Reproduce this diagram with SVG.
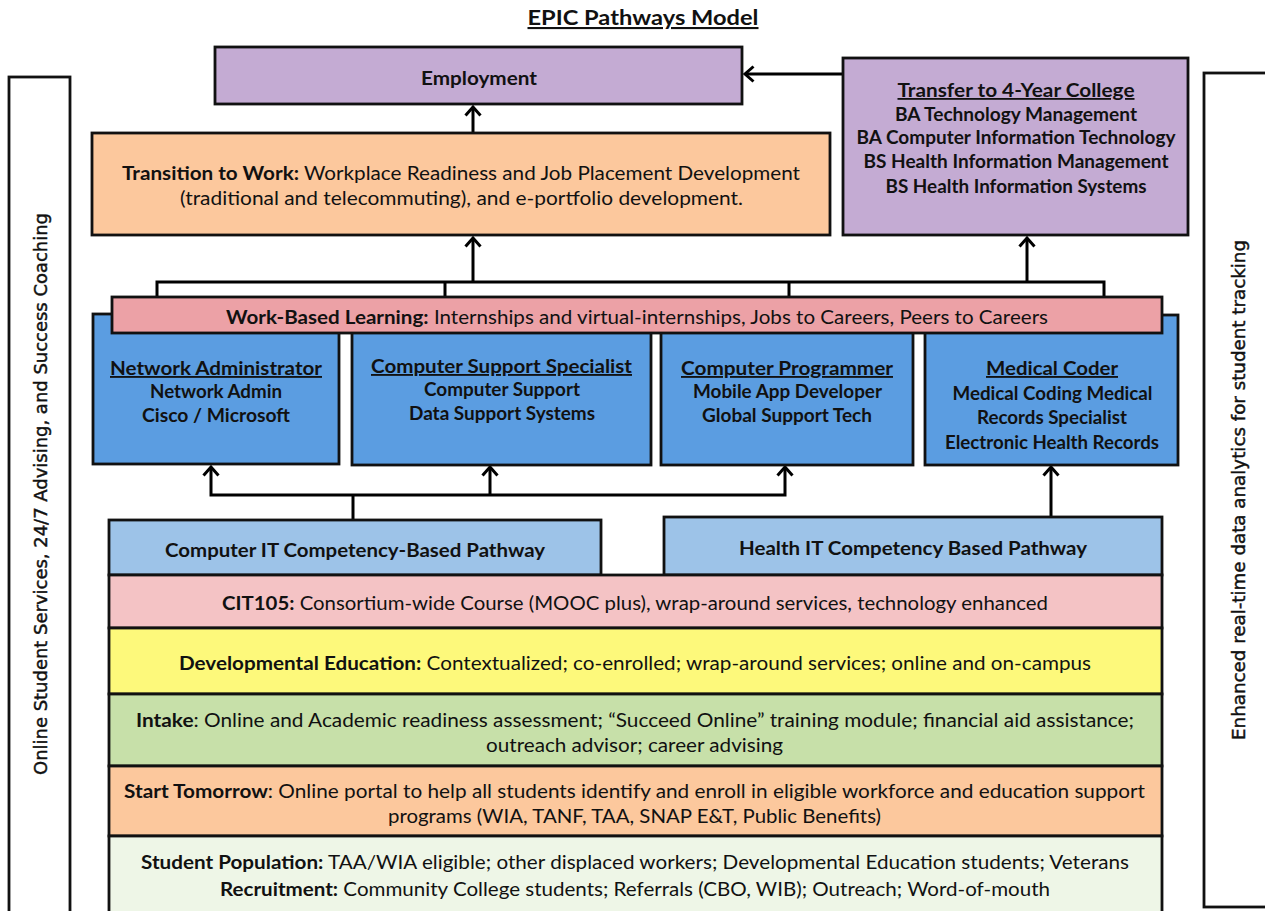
<svg xmlns="http://www.w3.org/2000/svg" width="1265" height="911" viewBox="0 0 1265 911">
<defs>
<marker id="ah" markerWidth="14" markerHeight="20" refX="11.5" refY="10" orient="auto-start-reverse" markerUnits="userSpaceOnUse" viewBox="0 0 14 20" overflow="visible">
<path d="M3,2.5 L11.5,10 L3,17.5" fill="none" stroke="#000" stroke-width="3"/>
</marker>
<style>
text{font-family:Lato,"Liberation Sans",Arial,sans-serif;font-size:19.5px;fill:#111;text-anchor:middle}
.b{font-weight:bold}
.u{text-decoration:underline}
.s{font-size:18.5px}
.t{font-size:18px}
.side{font-family:"DejaVu Sans",Verdana,sans-serif;font-size:18px;stroke:#111;stroke-width:0.45}
.box{stroke:#111;stroke-width:2.8}
.con{fill:none;stroke:#000;stroke-width:3}
.title{font-size:21px;font-weight:bold;text-decoration:underline}
</style>
</defs>
<rect width="1265" height="911" fill="#fff"/>
<text class="title" x="643" y="25" textLength="231" lengthAdjust="spacingAndGlyphs">EPIC Pathways Model</text>

<g id="left-bar">
<rect x="9" y="77" width="61" height="850" fill="#fff" class="box"/>
<text class="side" transform="translate(47,494) rotate(-90)" textLength="562" lengthAdjust="spacingAndGlyphs">Online Student Services, 24/7 Advising, and Success Coaching</text>
</g>
<g id="right-bar">
<rect x="1204" y="73" width="80" height="834" fill="#fff" class="box"/>
<text class="side" transform="translate(1245,490) rotate(-90)" textLength="500" lengthAdjust="spacingAndGlyphs">Enhanced real-time data analytics for student tracking</text>
</g>

<g id="connectors">
<path class="con" d="M473,133 V107" marker-end="url(#ah)"/>
<path class="con" d="M843,74 H745" marker-end="url(#ah)"/>
<path class="con" d="M157,297 V282 H1104 V297 M445,282 V297 M789,282 V297"/>
<path class="con" d="M473,282 V238" marker-end="url(#ah)"/>
<path class="con" d="M1027,282 V238" marker-end="url(#ah)"/>
<path class="con" d="M353,520 V495"/>
<path class="con" d="M211,467 V495 H785 V467" marker-start="url(#ah)" marker-end="url(#ah)"/>
<path class="con" d="M490,495 V467" marker-end="url(#ah)"/>
<path class="con" d="M1051,517 V467" marker-end="url(#ah)"/>
</g>

<g id="employment">
<rect x="215" y="47" width="527" height="57" fill="#c4abd3" class="box"/>
<text class="b" x="479" y="85" textLength="116" lengthAdjust="spacingAndGlyphs">Employment</text>
</g>

<g id="transfer">
<rect x="843" y="58" width="345" height="177" fill="#c4abd3" class="box"/>
<text class="b u t" x="1016" y="97" textLength="237" lengthAdjust="spacingAndGlyphs">Transfer to 4-Year College</text>
<text class="b t" x="1016" y="121" textLength="242" lengthAdjust="spacingAndGlyphs">BA Technology Management</text>
<text class="b t" x="1016" y="144" textLength="319" lengthAdjust="spacingAndGlyphs">BA Computer Information Technology</text>
<text class="b t" x="1016" y="168" textLength="305" lengthAdjust="spacingAndGlyphs">BS Health Information Management</text>
<text class="b t" x="1016" y="193" textLength="261" lengthAdjust="spacingAndGlyphs">BS Health Information Systems</text>
</g>

<g id="transition">
<rect x="92" y="133" width="738" height="102" fill="#fcc89d" class="box"/>
<text x="461" y="180" textLength="678" lengthAdjust="spacingAndGlyphs"><tspan class="b">Transition to Work:</tspan> Workplace Readiness and Job Placement Development</text>
<text x="461.5" y="205" textLength="563" lengthAdjust="spacingAndGlyphs">(traditional and telecommuting), and e-portfolio development.</text>
</g>

<g id="network-admin">
<rect x="93" y="314" width="246" height="150" fill="#5b9de1" class="box"/>
<text class="b u s" x="216" y="375" textLength="212" lengthAdjust="spacingAndGlyphs">Network Administrator</text>
<text class="b s" x="216" y="398" textLength="132" lengthAdjust="spacingAndGlyphs">Network Admin</text>
<text class="b s" x="216" y="422" textLength="148" lengthAdjust="spacingAndGlyphs">Cisco / Microsoft</text>
</g>
<g id="computer-support">
<rect x="352" y="315" width="299" height="150" fill="#5b9de1" class="box"/>
<text class="b u s" x="501.5" y="373" textLength="261" lengthAdjust="spacingAndGlyphs">Computer Support Specialist</text>
<text class="b s" x="502" y="396" textLength="156" lengthAdjust="spacingAndGlyphs">Computer Support</text>
<text class="b s" x="502" y="420" textLength="186" lengthAdjust="spacingAndGlyphs">Data Support Systems</text>
</g>
<g id="computer-programmer">
<rect x="661" y="315" width="252" height="150" fill="#5b9de1" class="box"/>
<text class="b u s" x="787" y="375" textLength="212" lengthAdjust="spacingAndGlyphs">Computer Programmer</text>
<text class="b s" x="787.5" y="398" textLength="189" lengthAdjust="spacingAndGlyphs">Mobile App Developer</text>
<text class="b s" x="787" y="422" textLength="170" lengthAdjust="spacingAndGlyphs">Global Support Tech</text>
</g>
<g id="medical-coder">
<rect x="925" y="315" width="253" height="150" fill="#5b9de1" class="box"/>
<text class="b u s" x="1052" y="375" textLength="132" lengthAdjust="spacingAndGlyphs">Medical Coder</text>
<text class="b s" x="1052.5" y="400" textLength="200" lengthAdjust="spacingAndGlyphs">Medical Coding Medical</text>
<text class="b s" x="1052" y="424" textLength="150" lengthAdjust="spacingAndGlyphs">Records Specialist</text>
<text class="b s" x="1052" y="449" textLength="214" lengthAdjust="spacingAndGlyphs">Electronic Health Records</text>
</g>

<g id="work-based-learning">
<rect x="112" y="297" width="1050" height="36" fill="#eca1a6" class="box"/>
<text x="637" y="324" textLength="822" lengthAdjust="spacingAndGlyphs"><tspan class="b">Work-Based Learning:</tspan> Internships and virtual-internships, Jobs to Careers, Peers to Careers</text>
</g>

<g id="computer-it-pathway">
<rect x="109" y="520" width="492" height="55" fill="#9dc3e8" class="box"/>
<text class="b" x="355" y="557" textLength="380" lengthAdjust="spacingAndGlyphs">Computer IT Competency-Based Pathway</text>
</g>
<g id="health-it-pathway">
<rect x="664" y="517" width="498" height="58" fill="#9dc3e8" class="box"/>
<text class="b" x="913" y="555" textLength="348" lengthAdjust="spacingAndGlyphs">Health IT Competency Based Pathway</text>
</g>

<g id="cit105">
<rect x="109" y="575" width="1053" height="53" fill="#f4c3c5" class="box"/>
<text x="635" y="610" textLength="826" lengthAdjust="spacingAndGlyphs"><tspan class="b">CIT105:</tspan> Consortium-wide Course (MOOC plus), wrap-around services, technology enhanced</text>
</g>
<g id="developmental-education">
<rect x="109" y="628" width="1053" height="66" fill="#fdf97b" class="box"/>
<text x="635" y="670" textLength="912" lengthAdjust="spacingAndGlyphs"><tspan class="b">Developmental Education:</tspan> Contextualized; co-enrolled; wrap-around services; online and on-campus</text>
</g>
<g id="intake">
<rect x="109" y="694" width="1053" height="72" fill="#c7e0a9" class="box"/>
<text x="635" y="727" textLength="998" lengthAdjust="spacingAndGlyphs"><tspan class="b">Intake</tspan>: Online and Academic readiness assessment; “Succeed Online” training module; financial aid assistance;</text>
<text x="634.5" y="752" textLength="297" lengthAdjust="spacingAndGlyphs">outreach advisor; career advising</text>
</g>
<g id="start-tomorrow">
<rect x="109" y="766" width="1053" height="70" fill="#fcc89d" class="box"/>
<text x="634.5" y="798" textLength="1021" lengthAdjust="spacingAndGlyphs"><tspan class="b">Start Tomorrow</tspan>: Online portal to help all students identify and enroll in eligible workforce and education support</text>
<text x="634.5" y="823" textLength="493" lengthAdjust="spacingAndGlyphs">programs (WIA, TANF, TAA, SNAP E&amp;T, Public Benefits)</text>
</g>
<g id="student-population">
<rect x="109" y="836" width="1053" height="85" fill="#eef6e7" class="box"/>
<text x="635" y="869" textLength="988" lengthAdjust="spacingAndGlyphs"><tspan class="b">Student Population:</tspan> TAA/WIA eligible; other displaced workers; Developmental Education students; Veterans</text>
<text x="635" y="896" textLength="830" lengthAdjust="spacingAndGlyphs"><tspan class="b">Recruitment:</tspan> Community College students; Referrals (CBO, WIB); Outreach; Word-of-mouth</text>
</g>
</svg>
